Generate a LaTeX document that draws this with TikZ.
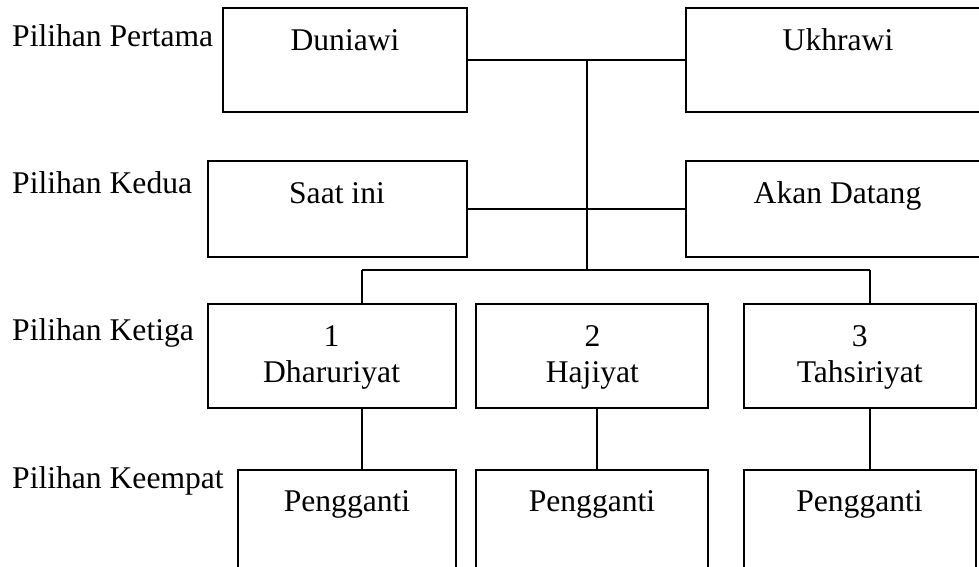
\documentclass[tikz,border=0pt]{standalone}
\usepackage{fontspec}
\setmainfont{Liberation Serif}
\begin{document}
\begin{tikzpicture}[x=1pt,y=-1pt,
  box/.style={draw=black, line width=1.8pt, inner sep=0pt, outer sep=0pt, anchor=north west},
  txt/.style={anchor=base, inner sep=0pt, font=\fontsize{31.6}{36}\selectfont},
  lab/.style={anchor=base west, inner sep=0pt, font=\fontsize{31.6}{36}\selectfont},
  conn/.style={draw=black, line width=1.8pt}]
\useasboundingbox (0,0) rectangle (979,566);
\clip (0,0) rectangle (979,566);
% level labels
\node[lab] (l1) at (12,46.7) {Pilihan Pertama};
\node[lab] (l2) at (12,193.3) {Pilihan Kedua};
\node[lab] (l3) at (12,340) {Pilihan Ketiga};
\node[lab] (l4) at (12,488) {Pilihan Keempat};
% row 1
\node[box, minimum width=244pt, minimum height=104pt] (dun) at (223,8) {};
\node[box, minimum width=304pt, minimum height=104pt] (ukh) at (686,8) {};
\node[txt] (tdun) at (345,50) {Duniawi};
\node[txt] (tukh) at (838,50) {Ukhrawi};
% row 2
\node[box, minimum width=259pt, minimum height=96pt] (saat) at (208,161) {};
\node[box, minimum width=304pt, minimum height=96pt] (akan) at (686,161) {};
\node[txt] (tsaat) at (337,203) {Saat ini};
\node[txt] (takan) at (837.5,203) {Akan Datang};
% row 3
\node[box, minimum width=248pt, minimum height=104pt] (d1) at (208,304) {};
\node[box, minimum width=232pt, minimum height=104pt] (d2) at (476,304) {};
\node[box, minimum width=232pt, minimum height=104pt] (d3) at (744,304) {};
\node[txt] (n1) at (331.6,346) {1};
\node[txt] (t1) at (331.6,382) {Dharuriyat};
\node[txt] (n2) at (592.4,346) {2};
\node[txt] (t2) at (592.4,382) {Hajiyat};
\node[txt] (n3) at (859.7,346) {3};
\node[txt] (t3) at (859.7,382) {Tahsiriyat};
% row 4
\node[box, minimum width=218pt, minimum height=150pt] (p1) at (238,470) {};
\node[box, minimum width=232pt, minimum height=150pt] (p2) at (476,470) {};
\node[box, minimum width=232pt, minimum height=150pt] (p3) at (744,470) {};
\node[txt] (tp1) at (347,511) {Pengganti};
\node[txt] (tp2) at (592,511) {Pengganti};
\node[txt] (tp3) at (859.5,511) {Pengganti};
% junction coordinates
\coordinate (jtop) at (587,60);
\coordinate (jmid) at (587,270);
\coordinate (bl) at (362,270);
\coordinate (br) at (870,270);
\coordinate (c1) at (362,0);
\coordinate (c2) at (597,0);
\coordinate (c3) at (870,0);
% connectors
\draw[conn] (dun.east) -- (ukh.west);
\draw[conn] (saat.east) -- (akan.west);
\draw[conn] (jtop) -- (jmid);
\draw[conn] (bl) -- (br);
\draw[conn] (bl) -- (bl |- d1.north);
\draw[conn] (br) -- (br |- d3.north);
\draw[conn] (c1 |- d1.south) -- (c1 |- p1.north);
\draw[conn] (c2 |- d2.south) -- (c2 |- p2.north);
\draw[conn] (c3 |- d3.south) -- (c3 |- p3.north);
\end{tikzpicture}
\end{document}
